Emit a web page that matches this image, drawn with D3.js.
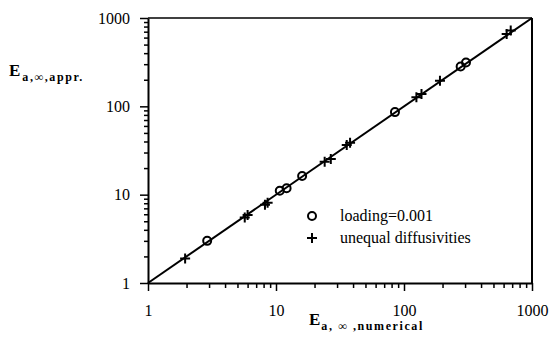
<!DOCTYPE html>
<html>
<head>
<meta charset="utf-8">
<script src="https://cdn.jsdelivr.net/npm/d3@7"></script>
<style>
  body { margin: 0; background: #fff; }
  svg { display: block; font-family: "Liberation Serif", "Times New Roman", serif; }
</style>
</head>
<body>
<svg id="chart" width="552" height="338"></svg>
<script>
// data
var loadingX = [2.9, 10.7, 12.1, 16, 85, 277, 305];
var loadingY = [3.0, 11.1, 11.8, 16.3, 86, 282, 313];
var unequalX = [1.95, 5.7, 6.0, 8.2, 8.6, 24, 26.8, 35.7, 37.9, 125, 137, 191, 634, 682];
var unequalY = [1.9, 5.5, 5.9, 7.7, 8.1, 23.6, 25.4, 36.5, 38.8, 127, 138, 195, 661, 720];
var majorTicks = [1, 10, 100, 1000];
var minorTicks = [2, 3, 4, 5, 6, 7, 8, 9, 20, 30, 40, 50, 60, 70, 80, 90, 200, 300, 400, 500, 600, 700, 800, 900];
var legendLabels = ["loading=0.001", "unequal diffusivities"];

var margin = { top: 18, right: 20, bottom: 55, left: 148 };
var width = 552 - margin.left - margin.right;
var height = 338 - margin.top - margin.bottom;

var x = d3.scaleLog().domain([1, 1000]).range([0, width]);
var y = d3.scaleLog().domain([1, 1000]).range([height, 0]);

var svg = d3.select("#chart");
var g = svg.append("g")
    .attr("transform", "translate(" + margin.left + "," + margin.top + ")");

// frame (top and right)
g.append("line").attr("x1", 0).attr("x2", width).attr("y1", 0).attr("y2", 0)
    .attr("stroke", "#000").attr("stroke-width", 1.5);
g.append("line").attr("x1", width).attr("x2", width).attr("y1", 0).attr("y2", height)
    .attr("stroke", "#000").attr("stroke-width", 2);

// minor ticks
g.append("g")
    .attr("transform", "translate(0," + height + ")")
    .call(d3.axisBottom(x).tickValues(minorTicks).tickSize(5).tickFormat(""))
    .call(function (a) { a.select(".domain").remove(); });
g.append("g")
    .call(d3.axisLeft(y).tickValues(minorTicks).tickSize(4).tickFormat(""))
    .call(function (a) { a.select(".domain").remove(); });

// major ticks and labels
var axisX = g.append("g")
    .attr("transform", "translate(0," + height + ")")
    .call(d3.axisBottom(x).tickValues(majorTicks).tickSize(8).tickSizeOuter(0)
        .tickPadding(14).tickFormat(d3.format("d")));
var axisY = g.append("g")
    .call(d3.axisLeft(y).tickValues(majorTicks).tickSize(8).tickSizeOuter(0)
        .tickPadding(10).tickFormat(d3.format("d")));

[axisX, axisY].forEach(function (a) {
    a.attr("font-family", "Liberation Serif, serif").attr("font-size", 16);
    a.selectAll("text").attr("fill", "#000");
    a.select(".domain").attr("stroke-width", 2);
});
svg.selectAll(".tick line").attr("stroke-width", 1.5);

// y = x line
g.append("line")
    .attr("x1", x(1)).attr("y1", y(1))
    .attr("x2", x(1000)).attr("y2", y(1000))
    .attr("stroke", "#000").attr("stroke-width", 2);

// circles
g.selectAll(".pt-load")
    .data(loadingX)
    .enter().append("circle")
    .attr("class", "pt-load")
    .attr("cx", function (d) { return x(d); })
    .attr("cy", function (d, i) { return y(loadingY[i]); })
    .attr("r", 4)
    .attr("fill", "none")
    .attr("stroke", "#000")
    .attr("stroke-width", 2);

// plus signs
function plus(sel, s) {
    sel.append("path")
        .attr("d", "M" + (-s) + ",0H" + s + "M0," + (-s) + "V" + s)
        .attr("stroke", "#000")
        .attr("stroke-width", 2);
}
g.selectAll(".pt-uneq")
    .data(unequalX)
    .enter().append("g")
    .attr("class", "pt-uneq")
    .attr("transform", function (d, i) {
        return "translate(" + x(d) + "," + y(unequalY[i]) + ")";
    })
    .call(plus, 5);

// legend
var leg = svg.append("g");
leg.append("circle").attr("cx", 312).attr("cy", 216).attr("r", 4)
    .attr("fill", "none").attr("stroke", "#000").attr("stroke-width", 2);
var lp = leg.append("g").attr("transform", "translate(312,238)");
plus(lp, 5);
leg.selectAll("text")
    .data(legendLabels)
    .enter().append("text")
    .attr("x", 340)
    .attr("y", function (d, i) { return 221 + i * 22; })
    .attr("font-size", 16)
    .text(function (d) { return d; });

// axis titles
var ty = svg.append("text").attr("x", 9).attr("y", 76).attr("font-weight", "bold");
ty.append("tspan").attr("font-size", 17).text("E");
ty.append("tspan").attr("font-size", 12).attr("dy", 5).attr("dx", 2)
    .attr("letter-spacing", 1.6).text("a,\u221e,appr.");

var tx = svg.append("text").attr("x", 309).attr("y", 325).attr("font-weight", "bold");
tx.append("tspan").attr("font-size", 17).text("E");
tx.append("tspan").attr("font-size", 12).attr("dy", 5).attr("dx", 1)
    .attr("letter-spacing", 1.6).text("a, \u221e ,numerical");
</script>
</body>
</html>
